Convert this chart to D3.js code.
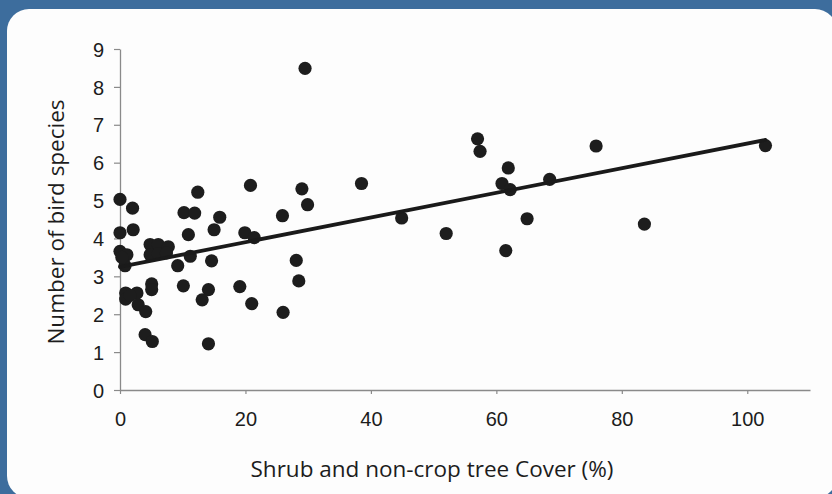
<!DOCTYPE html>
<html>
<head>
<meta charset="utf-8">
<script src="https://cdn.jsdelivr.net/npm/d3@7"></script>
<style>
  html, body { margin: 0; padding: 0; background: #3d6d9d; }
  svg { display: block; }
</style>
</head>
<body>
<div id="chart"></div>
<script>
// shrub / non-crop tree cover (%) and number of bird species
const coverPct = [
  0, 2, 0, 2.1, 0, 1.1, 0.8, 0.3,
  4.8, 6.1, 4.8, 6.1, 7.7, 7.4, 9.2, 11.2,
  12.4, 10.2, 11.9, 10.9, 15.9, 15, 14.6,
  20.8, 29, 29.9, 25.9, 19.9, 21.4, 28.1, 28.5,
  29.5, 38.5, 44.9, 52, 57, 57.4, 61.9, 60.9, 62.2, 68.5, 75.9, 102.9, 64.9, 61.5, 83.6,
  0.9, 0.9, 2.7, 1.6, 2.9, 4.1, 5.05, 5.05, 10.1, 14.1, 13.1, 19.1, 21, 26, 4, 5.15, 14.1
];
const birdSpecies = [
  5.03, 4.8, 4.15, 4.23, 3.66, 3.57, 3.28, 3.5,
  3.84, 3.84, 3.57, 3.6, 3.78, 3.62, 3.28, 3.53,
  5.22, 4.68, 4.67, 4.1, 4.56, 4.23, 3.41,
  5.4, 5.31, 4.89, 4.6, 4.15, 4.02, 3.42, 2.88,
  8.49, 5.45, 4.54, 4.13, 6.63, 6.3, 5.86, 5.45, 5.29, 5.56, 6.44, 6.45, 4.52, 3.68, 4.38,
  2.56, 2.4, 2.56, 2.5, 2.25, 2.07, 2.8, 2.65, 2.75, 2.65, 2.38, 2.73, 2.28, 2.05, 1.46, 1.28, 1.22
];
// linear trend line end points
const trendX = [0, 102.9];
const trendY = [3.25, 6.6];

const xTicks = [0, 20, 40, 60, 80, 100];
const yTicks = [0, 1, 2, 3, 4, 5, 6, 7, 8, 9];

const width = 832, height = 494;
const margin = {top: 49, right: 22, bottom: 104, left: 120};

const svg = d3.select("#chart").append("svg")
    .attr("width", width)
    .attr("height", height);

// scanned card: blue frame with white rounded panel
svg.append("rect")
    .attr("width", width).attr("height", height)
    .attr("fill", "#3d6d9d");
svg.append("rect")
    .attr("x", 7).attr("y", 9)
    .attr("width", 830).attr("height", 489)
    .attr("rx", 22).attr("ry", 22)
    .attr("fill", "#fdfdfd");

const x = d3.scaleLinear()
    .domain([0, 110])
    .range([margin.left, width - margin.right]);

const y = d3.scaleLinear()
    .domain([0, 9])
    .range([height - margin.bottom, margin.top]);

const xAxis = svg.append("g")
    .attr("transform", `translate(0,${y(0)})`)
    .call(d3.axisBottom(x).tickValues(xTicks).tickSize(4).tickSizeOuter(0).tickPadding(18));

const yAxis = svg.append("g")
    .attr("transform", `translate(${x(0)},0)`)
    .call(d3.axisLeft(y).tickValues(yTicks).tickSize(6).tickSizeOuter(0).tickPadding(10));

[xAxis, yAxis].forEach(g => {
  g.select(".domain").attr("stroke", "#8a8a8a").attr("stroke-width", 1.3);
  g.selectAll(".tick line").attr("stroke", "#8a8a8a").attr("stroke-width", 1.2);
  g.selectAll(".tick text")
    .attr("fill", "#1c1c1c")
    .style("font-family", "'Liberation Sans', Arial, sans-serif")
    .style("font-size", "20px");
});
yAxis.selectAll(".tick text").attr("dy", "0.36em");

const pts = d3.zip(coverPct, birdSpecies);

svg.append("g")
  .selectAll("circle")
  .data(pts)
  .enter()
  .append("circle")
    .attr("cx", d => x(d[0]))
    .attr("cy", d => y(d[1]))
    .attr("r", 6.6)
    .attr("fill", "#1d1d1d");

svg.append("line")
    .attr("x1", x(trendX[0])).attr("y1", y(trendY[0]))
    .attr("x2", x(trendX[1])).attr("y2", y(trendY[1]))
    .attr("stroke", "#1a1a1a")
    .attr("stroke-width", 3.8)
    .attr("stroke-linecap", "round");

svg.append("text")
    .attr("x", 432)
    .attr("y", 477)
    .attr("text-anchor", "middle")
    .style("font-family", "'Open Sans', sans-serif")
    .style("font-size", "22.5px")
    .attr("fill", "#1c1c1c")
    .text("Shrub and non-crop tree Cover (%)");

svg.append("text")
    .attr("transform", "translate(64,222) rotate(-90)")
    .attr("text-anchor", "middle")
    .style("font-family", "'Open Sans', sans-serif")
    .style("font-size", "22.5px")
    .attr("fill", "#1c1c1c")
    .text("Number of bird species");
</script>
</body>
</html>
